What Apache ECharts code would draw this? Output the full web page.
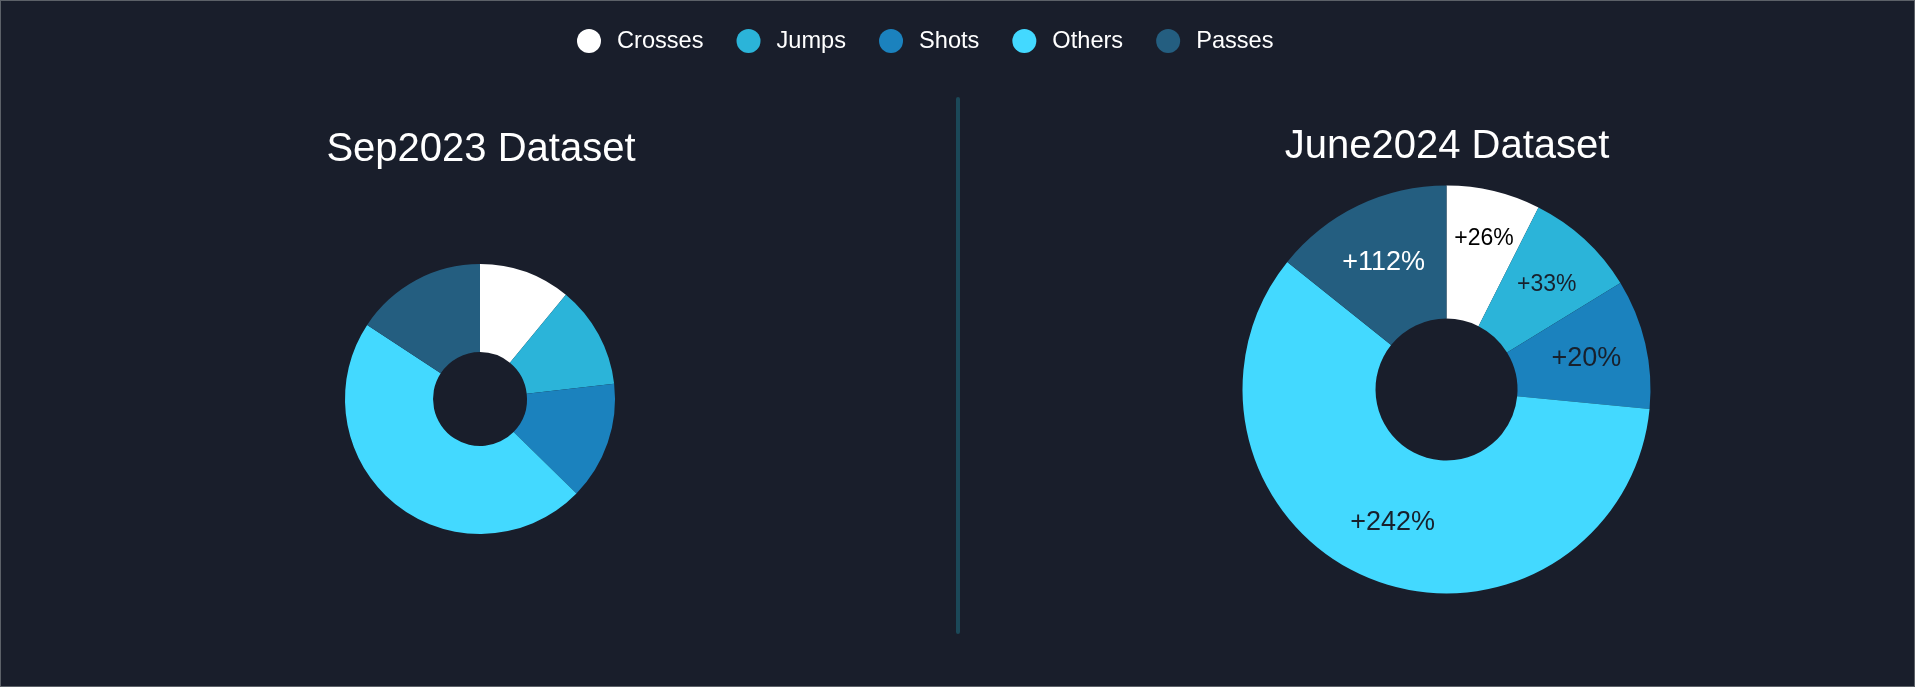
<!DOCTYPE html>
<html>
<head>
<meta charset="utf-8">
<title>Sep2023 vs June2024 Dataset</title>
<script src="https://cdn.jsdelivr.net/npm/echarts@6/dist/echarts.min.js"></script>
<style>
  html, body { margin: 0; padding: 0; background: #191e2b; }
  #main { width: 1915px; height: 687px; box-sizing: border-box; border: 1px solid #5c6168; }
</style>
</head>
<body>
<div id="main"></div>
<script>
// categories and values (share of each action type)
const categories = ["Crosses", "Jumps", "Shots", "Others", "Passes"];
const sep2023 = [39.5, 44.0, 50.9, 168.9, 56.7];
const june2024 = [26.8, 31.7, 37.0, 213.2, 51.3];
// growth labels shown on the June2024 slices
const growth = ["+26%", "+33%", "+20%", "+242%", "+112%"];

const colors = ["#ffffff", "#2bb4d9", "#1b82be", "#43d9ff", "#245e80"];
const labelColors = ["#000000", "#18202c", "#18202c", "#18202c", "#ffffff"];
const labelSizes = [23, 23, 27, 27, 27];
const labelOffsets = [[5, -14], [5, -2], [3, 1], [-1, 3], [-2, 0]];

const chart = echarts.init(document.getElementById("main"));

const option = {
  backgroundColor: "#191e2b",
  color: colors,
  textStyle: { fontFamily: "Liberation Sans, Arial, sans-serif" },
  title: [
    {
      text: "Sep2023 Dataset",
      left: 475, top: 124, textAlign: "center",
      textStyle: { color: "#ffffff", fontSize: 40, fontWeight: "normal" }
    },
    {
      text: "June2024 Dataset",
      left: 1441, top: 121, textAlign: "center",
      textStyle: { color: "#ffffff", fontSize: 40, fontWeight: "normal" }
    }
  ],
  legend: {
    data: categories,
    left: 571, top: 23,
    icon: "circle",
    itemWidth: 24, itemHeight: 24,
    itemGap: 33,
    textStyle: { color: "#ffffff", fontSize: 23.6, padding: [0, 0, 0, 11] }
  },
  graphic: [
    {
      type: "line",
      shape: { x1: 957, y1: 98, x2: 957, y2: 631 },
      style: { stroke: "#1b4858", lineWidth: 4, lineCap: "round" },
      silent: true
    }
  ],
  series: [
    {
      name: "Sep2023",
      type: "pie",
      center: [479, 398],
      radius: [47, 135],
      startAngle: 90,
      clockwise: true,
      avoidLabelOverlap: false,
      label: { show: false },
      labelLine: { show: false },
      emphasis: { scale: false },
      itemStyle: { borderWidth: 0 },
      data: categories.map((c, i) => ({ name: c, value: sep2023[i] }))
    },
    {
      name: "June2024",
      type: "pie",
      center: [1445.5, 388.5],
      radius: [71, 204],
      startAngle: 90,
      clockwise: true,
      avoidLabelOverlap: false,
      labelLine: { show: false },
      emphasis: { scale: false },
      itemStyle: { borderWidth: 0 },
      label: { show: true, position: "inside" },
      data: categories.map((c, i) => ({
        name: c,
        value: june2024[i],
        label: {
          formatter: growth[i],
          color: labelColors[i],
          fontSize: labelSizes[i],
          offset: labelOffsets[i],
          textBorderWidth: 0
        }
      }))
    }
  ]
};

option && chart.setOption(option);
</script>
</body>
</html>
